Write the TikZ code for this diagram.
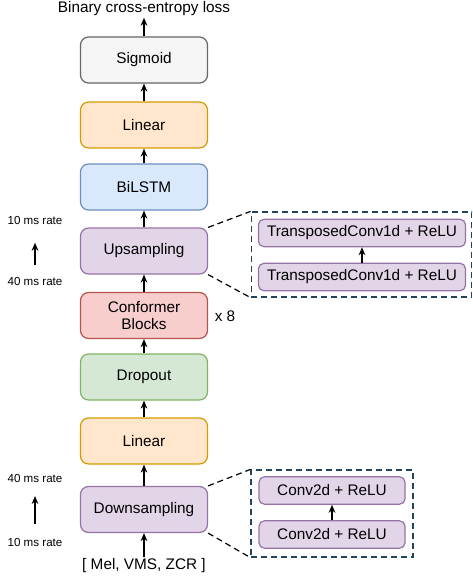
\documentclass[tikz,border=0pt]{standalone}
\usepackage{fontspec}
\setmainfont{Liberation Sans}
\usetikzlibrary{arrows.meta}
\definecolor{gF}{HTML}{F5F5F5}\definecolor{gD}{HTML}{666666}
\definecolor{oF}{HTML}{FFE6CC}\definecolor{oD}{HTML}{D79B00}
\definecolor{bF}{HTML}{DAE8FC}\definecolor{bD}{HTML}{6C8EBF}
\definecolor{pF}{HTML}{E1D5E7}\definecolor{pD}{HTML}{9673A6}
\definecolor{rF}{HTML}{F8CECC}\definecolor{rD}{HTML}{B85450}
\definecolor{grF}{HTML}{D5E8D4}\definecolor{grD}{HTML}{82B366}
\definecolor{navy}{HTML}{23445D}
\begin{document}
\begin{tikzpicture}[x=0.75pt,y=-0.75pt,
  blk/.style={draw, rounded corners=6pt, line width=0.9pt, minimum width=95.25pt, minimum height=34.5pt, align=center, inner sep=1pt, font=\fontsize{11.5}{13}\selectfont},
  sub/.style={draw=pD, fill=pF, rounded corners=4pt, line width=0.9pt, minimum height=20.5pt, inner sep=1pt, font=\fontsize{11.5}{13}\selectfont},
  dbox/.style={draw=navy, dash pattern=on 4.5pt off 3pt, line width=0.9pt, inner sep=0pt},
  arr/.style={-{Stealth[length=6pt,width=5pt]}, line width=1.2pt},
  txt/.style={font=\fontsize{11.5}{13}\selectfont, inner sep=1pt},
  rate/.style={font=\fontsize{8.7}{10}\selectfont, inner sep=0pt},
  lnk/.style={dash pattern=on 4.5pt off 3pt, line width=0.9pt}]
\useasboundingbox (0,0) rectangle (473,579);

\node[txt] (loss) at (144,9) {Binary cross-entropy loss};
\node[blk, draw=gD, fill=gF] (sig) at (144,60) {Sigmoid};
\node[blk, draw=oD, fill=oF] (lin2) at (144,125) {Linear};
\node[blk, draw=bD, fill=bF] (lstm) at (144,187) {BiLSTM};
\node[blk, draw=pD, fill=pF] (up) at (144,251) {Upsampling};
\node[blk, draw=rD, fill=rF] (conf) at (144,315.5) {Conformer\\Blocks};
\node[blk, draw=grD, fill=grF] (drop) at (144,377) {Dropout};
\node[blk, draw=oD, fill=oF] (lin1) at (144,441) {Linear};
\node[blk, draw=pD, fill=pF] (down) at (144,509.5) {Downsampling};
\node[txt] (inp) at (144,566) {[ Mel, VMS, ZCR ]};
\node[txt] (x8) at (225,316) {x 8};

\draw[arr] (inp.north) -- (down.south);
\draw[arr] (down) -- (lin1);
\draw[arr] (lin1) -- (drop);
\draw[arr] (drop) -- (conf);
\draw[arr] (conf) -- (up);
\draw[arr] (up) -- (lstm);
\draw[arr] (lstm) -- (lin2);
\draw[arr] (lin2) -- (sig);
\draw[arr] (sig.north) -- (loss.south);

% rate labels
\node[rate] (ua) at (35,221) {10 ms rate};
\node[rate] (ub) at (35,282) {40 ms rate};
\draw[arr, shorten <=9.5pt, shorten >=13pt] (ub.north) -- (ua.south);
\node[rate] (da) at (35,479) {40 ms rate};
\node[rate] (db) at (35,543) {10 ms rate};
\draw[arr, shorten <=11pt, shorten >=9.5pt] (db.north) -- (da.south);

% upsampling detail
\node[dbox, minimum width=165.5pt, minimum height=63.75pt] (ubox) at (361.5,254.5) {};
\node[sub, minimum width=155.25pt] (ut) at (362,233) {TransposedConv1d + ReLU};
\node[sub, minimum width=155.25pt] (ub2) at (362,277) {TransposedConv1d + ReLU};
\draw[arr] (ub2) -- (ut);
\draw[lnk] (up.north east) -- (ubox.north west);
\draw[lnk] (up.south east) -- (ubox.south west);

% downsampling detail
\node[dbox, minimum width=121.5pt, minimum height=65.25pt] (dbx) at (332,513.5) {};
\node[sub, minimum width=109.5pt] (dt) at (332,490.5) {Conv2d + ReLU};
\node[sub, minimum width=109.5pt] (dbt) at (332,534.5) {Conv2d + ReLU};
\draw[arr] (dbt) -- (dt);
\draw[lnk] (down.north east) -- (dbx.north west);
\draw[lnk] (down.south east) -- (dbx.south west);
\end{tikzpicture}
\end{document}
